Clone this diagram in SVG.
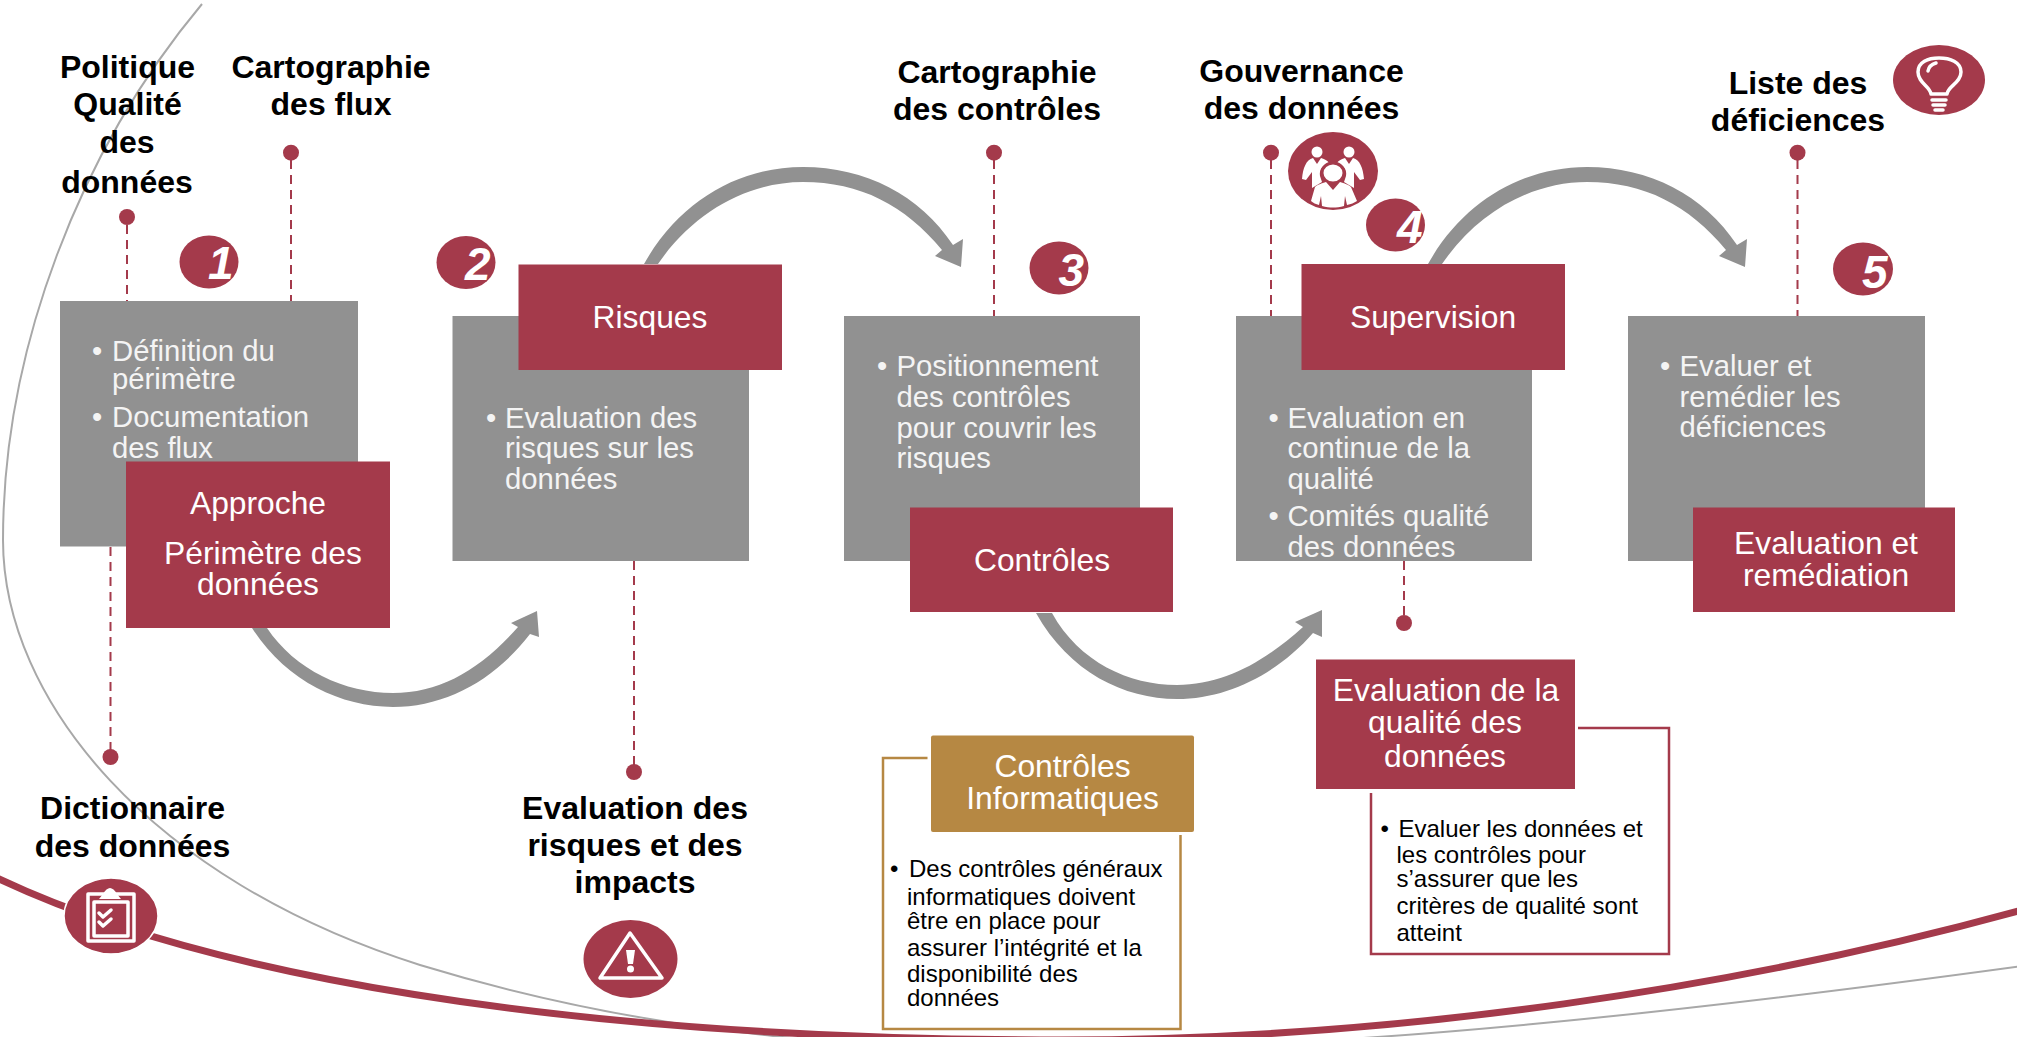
<svg xmlns="http://www.w3.org/2000/svg" width="2017" height="1037" viewBox="0 0 2017 1037">
<style>
text{font-family:"Liberation Sans",Arial,sans-serif}
.red{fill:#A43A4B}
.gray{fill:#919191}
.gold{fill:#B68843}
.lb{font-weight:700;font-size:32px;fill:#000;text-anchor:middle}
.box{font-size:31.8px;fill:#fff;text-anchor:middle}
.body{font-size:29.3px;fill:#f4f4f4}
.small{font-size:24px;fill:#000}
.num{font-size:46px;font-weight:700;font-style:italic;fill:#fff}
.dash{stroke:#A43A4B;stroke-width:2;stroke-dasharray:9 6;fill:none}
.ic{fill:none;stroke:#fff;stroke-width:3.5;stroke-linecap:round;stroke-linejoin:round}
.wf{fill:#fff}
</style>
<rect width="2017" height="1037" fill="#fff"/>
<g id="background-curves" fill="none">
<path d="M202,4 C80,150 3,350 3,540 C3,700 150,880 420,965 C600,1020 800,1050 1050,1050 C1350,1050 1700,1010 2022,966" stroke="#A8A8A8" stroke-width="2"/>
<path d="M-5,877 C200,975 560,1038 1040,1040 C1400,1042 1750,985 2022,910" stroke="#A43A4B" stroke-width="7"/>
</g>
<g id="connectors">
<g class="gray">
<path d="M252,628 C285,680 340,707 393,707 C445,707 495,680 530,634 L539,637 L537,611 L511,623 L518,627 C480,670 440,693 393,693 C345,693 295,670 267,628 Z"/>
<path d="M644,264 C680,200 740,167 803,167 C865,167 920,195 953,245 L963,239 L961,267 L935,256 L942,250 C905,205 860,182 803,182 C750,182 695,210 658,264 Z"/>
<path d="M1036,613 C1069,672 1124,699 1177,699 C1229,699 1279,672 1313,633 L1322,637 L1322,610 L1295,622 L1303,627 C1264,662 1224,685 1177,685 C1129,685 1079,662 1052,613 Z"/>
<path d="M1428,264 C1464,200 1524,167 1587,167 C1649,167 1704,195 1737,245 L1747,239 L1745,267 L1719,256 L1726,250 C1689,205 1644,182 1587,182 C1534,182 1479,210 1442,264 Z"/>
</g>
<path class="dash" d="M127,225V301"/>
<path class="dash" d="M291,160V301"/>
<path class="dash" d="M110.500,547V757"/>
<path class="dash" d="M634,561V772"/>
<path class="dash" d="M994,160V316"/>
<path class="dash" d="M1271,160V319"/>
<path class="dash" d="M1797.500,160V316"/>
<path class="dash" d="M1404,561V623"/>
<g class="red">
<circle cx="127" cy="217" r="8"/>
<circle cx="291" cy="152.700" r="8"/>
<circle cx="110.500" cy="757" r="8"/>
<circle cx="634" cy="772" r="8"/>
<circle cx="994" cy="152.700" r="8"/>
<circle cx="1271" cy="152.700" r="8"/>
<circle cx="1797.500" cy="152.700" r="8"/>
<circle cx="1404" cy="623" r="8"/>
</g>
<g fill="none" stroke-width="2.500">
<path d="M927.500,758H883V1029H1180.500V835" stroke="#B68843"/>
<path d="M1578,728H1669V954H1371V793" stroke="#A43A4B"/>
</g>
</g>
<g id="labels-top">
<text class="lb" x="127.500" y="78">Politique</text>
<text class="lb" x="127.500" y="115">Qualité</text>
<text class="lb" x="127" y="153">des</text>
<text class="lb" x="127" y="193">données</text>
<text class="lb" x="331" y="78">Cartographie</text>
<text class="lb" x="331" y="115">des flux</text>
<text class="lb" x="997" y="83">Cartographie</text>
<text class="lb" x="997" y="120">des contrôles</text>
<text class="lb" x="1301.500" y="82">Gouvernance</text>
<text class="lb" x="1301.500" y="119">des données</text>
<text class="lb" x="1798" y="94">Liste des</text>
<text class="lb" x="1798" y="131">déficiences</text>
<text class="lb" x="132.500" y="819">Dictionnaire</text>
<text class="lb" x="132.500" y="857">des données</text>
<text class="lb" x="635" y="819">Evaluation des</text>
<text class="lb" x="635" y="856">risques et des</text>
<text class="lb" x="635" y="893">impacts</text>
</g>
<g id="step-1">
<rect class="gray" x="60" y="301" width="298" height="245.500"/>
<text class="body" x="92" y="361">•</text>
<text class="body" x="112" y="361">Définition du</text>
<text class="body" x="112" y="389">périmètre</text>
<text class="body" x="92" y="427">•</text>
<text class="body" x="112" y="427">Documentation</text>
<text class="body" x="112" y="458">des flux</text>
<rect class="red" x="126" y="461.500" width="264" height="166.500"/>
<text class="box" x="258" y="514">Approche</text>
<text class="box" x="263" y="563.500">Périmètre des</text>
<text class="box" x="258" y="595">données</text>
<ellipse class="red" cx="209" cy="262" rx="29.500" ry="26.500"/>
<text class="num" x="208" y="279">1</text>
</g>
<g id="step-2">
<rect class="gray" x="452.500" y="316" width="296.500" height="245"/>
<text class="body" x="486" y="427.500">•</text>
<text class="body" x="505" y="427.500">Evaluation des</text>
<text class="body" x="505" y="457.500">risques sur les</text>
<text class="body" x="505" y="488.500">données</text>
<rect class="red" x="518.500" y="264.500" width="263.500" height="105.500"/>
<text class="box" x="650" y="328">Risques</text>
<ellipse class="red" cx="466" cy="262.500" rx="29.500" ry="26.500"/>
<text class="num" x="465" y="280">2</text>
</g>
<g id="step-3">
<rect class="gray" x="844" y="316" width="296" height="245"/>
<text class="body" x="877" y="376">•</text>
<text class="body" x="896.500" y="376">Positionnement</text>
<text class="body" x="896.500" y="407">des contrôles</text>
<text class="body" x="896.500" y="437.500">pour couvrir les</text>
<text class="body" x="896.500" y="468">risques</text>
<rect class="red" x="910" y="507.500" width="263" height="104.500"/>
<text class="box" x="1042" y="571">Contrôles</text>
<ellipse class="red" cx="1059" cy="268" rx="29.500" ry="26.500"/>
<text class="num" x="1058.500" y="286">3</text>
</g>
<g id="step-4">
<rect class="gray" x="1236" y="316" width="296" height="245"/>
<text class="body" x="1268.500" y="428">•</text>
<text class="body" x="1287.500" y="428">Evaluation en</text>
<text class="body" x="1287.500" y="458">continue de la</text>
<text class="body" x="1287.500" y="488.500">qualité</text>
<text class="body" x="1268.500" y="525.500">•</text>
<text class="body" x="1287.500" y="525.500">Comités qualité</text>
<text class="body" x="1287.500" y="556.500">des données</text>
<rect class="red" x="1301.500" y="264" width="263.500" height="106"/>
<text class="box" x="1433" y="328">Supervision</text>
<ellipse class="red" cx="1395.500" cy="225" rx="29.500" ry="26.500"/>
<text class="num" x="1397" y="243">4</text>
</g>
<g id="step-5">
<rect class="gray" x="1628" y="316" width="297" height="245"/>
<text class="body" x="1660" y="376">•</text>
<text class="body" x="1679.500" y="376">Evaluer et</text>
<text class="body" x="1679.500" y="407">remédier les</text>
<text class="body" x="1679.500" y="437">déficiences</text>
<rect class="red" x="1693" y="507.500" width="262" height="104.500"/>
<text class="box" x="1826" y="553.500">Evaluation et</text>
<text class="box" x="1826" y="585.500">remédiation</text>
<ellipse class="red" cx="1863" cy="269" rx="30" ry="26.500"/>
<text class="num" x="1862" y="288">5</text>
</g>
<g id="controles-informatiques">
<rect class="gold" x="931" y="735.500" width="263" height="96.500" rx="2"/>
<text class="box" x="1062.500" y="777">Contrôles</text>
<text class="box" x="1062.500" y="809">Informatiques</text>
<text class="small" x="890" y="876.500">•</text>
<text class="small" x="909" y="876.500">Des contrôles généraux</text>
<text class="small" x="907" y="904.500">informatiques doivent</text>
<text class="small" x="907" y="929">être en place pour</text>
<text class="small" x="907" y="955.500">assurer l’intégrité et la</text>
<text class="small" x="907" y="981.500">disponibilité des</text>
<text class="small" x="907" y="1005.500">données</text>
</g>
<g id="evaluation-qualite">
<rect class="red" x="1316" y="659.500" width="259" height="129.500"/>
<text class="box" x="1446" y="701">Evaluation de la</text>
<text class="box" x="1445" y="733">qualité des</text>
<text class="box" x="1445" y="767">données</text>
<text class="small" x="1380.500" y="836.500">•</text>
<text class="small" x="1398.500" y="836.500">Evaluer les données et</text>
<text class="small" x="1396.500" y="862.500">les contrôles pour</text>
<text class="small" x="1396.500" y="886.500">s’assurer que les</text>
<text class="small" x="1396.500" y="913.500">critères de qualité sont</text>
<text class="small" x="1396.500" y="940.500">atteint</text>
</g>
<g id="icon-people">
<ellipse class="red" cx="1333" cy="171" rx="45" ry="39"/>
<circle class="wf" cx="1317" cy="152" r="5.500"/>
<circle class="wf" cx="1349" cy="152" r="5.500"/>
<path class="wf" d="M1302,179 C1303,168 1306,160 1313,158 L1317,164 L1321,158 C1325,159 1328,161 1329,163 C1322,165 1319,170 1320,176 L1322,182 L1312,188 L1312,172 L1306,180 Z"/>
<path class="wf" d="M1364,179 C1363,168 1360,160 1353,158 L1349,164 L1345,158 C1341,159 1338,161 1337,163 C1344,165 1347,170 1346,176 L1344,182 L1354,188 L1354,172 L1360,180 Z"/>
<ellipse cx="1333" cy="173" rx="11" ry="10" fill="#fff" stroke="#A43A4B" stroke-width="3"/>
<path class="wf" d="M1311,201 L1315,187 C1317,185 1322,183 1326,182 L1333,190 L1340,182 C1344,183 1349,185 1351,187 L1357,201 C1354,203 1351,204 1347,205 L1345,196 L1344,206 C1336,208 1330,208 1322,206 L1321,196 L1319,205 C1316,204 1313,203 1311,201 Z"/>
</g>
<g id="icon-bulb">
<ellipse class="red" cx="1939" cy="80" rx="46" ry="35"/>
<path class="ic" d="M1931,94 C1930,86 1918,83 1918,72 C1918,62 1928,58 1939,58 C1950,58 1961,62 1961,72 C1961,83 1948,86 1947,94 Z"/>
<path class="ic" stroke-width="2.500" d="M1928,71 Q1929,65 1936,63 M1932,100H1946 M1933,105H1945 M1935,110H1943"/>
</g>
<g id="icon-clipboard">
<ellipse class="red" cx="111" cy="916" rx="47" ry="38" stroke="#fff" stroke-width="1.500"/>
<path class="ic" stroke-width="3" d="M88,894H134V941H88Z"/>
<path class="ic" stroke-width="2" d="M94,902H128V936H94Z"/>
<path class="wf" d="M99,899L103,894C105,890 108,888 110,888C112,888 115,890 117,894L121,899Z"/>
<path class="ic" stroke="#fff" stroke-width="3" d="M99,913L103,917L111,910M99,922L103,926L111,919"/>
</g>
<g id="icon-warning">
<ellipse class="red" cx="630.500" cy="959" rx="47" ry="39"/>
<path class="ic" stroke-width="5" d="M630,933L600,978H662Z"/>
<path class="wf" d="M626,950H635L633,964H628Z"/>
<circle class="wf" cx="630.500" cy="969" r="3.500"/>
</g>
</svg>
